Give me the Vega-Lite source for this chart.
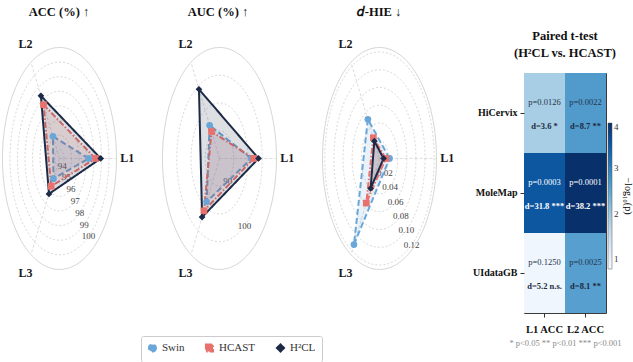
{
  "$schema": "https://vega.github.io/schema/vega-lite/v6.json",
  "background": "white",
  "padding": {"left": 0, "top": 5, "right": 0, "bottom": 0},
  "spacing": 0,
  "bounds": "flush",
  "datasets": {
    "scores": [
      {"metric": "ACC", "level": "L1", "method": "Swin", "value": 97.3},
      {"metric": "ACC", "level": "L2", "method": "Swin", "value": 95.15},
      {"metric": "ACC", "level": "L3", "method": "Swin", "value": 95.0},
      {"metric": "ACC", "level": "L1", "method": "HCAST", "value": 98.2},
      {"metric": "ACC", "level": "L2", "method": "HCAST", "value": 97.65},
      {"metric": "ACC", "level": "L3", "method": "HCAST", "value": 95.6},
      {"metric": "ACC", "level": "L1", "method": "H²CL", "value": 98.9},
      {"metric": "ACC", "level": "L2", "method": "H²CL", "value": 98.35},
      {"metric": "ACC", "level": "L3", "method": "H²CL", "value": 96.2},
      {"metric": "AUC", "level": "L1", "method": "Swin", "value": 96.2},
      {"metric": "AUC", "level": "L2", "method": "Swin", "value": 91.9},
      {"metric": "AUC", "level": "L3", "method": "Swin", "value": 94.0},
      {"metric": "AUC", "level": "L1", "method": "HCAST", "value": 97.0},
      {"metric": "AUC", "level": "L2", "method": "HCAST", "value": 90.6},
      {"metric": "AUC", "level": "L3", "method": "HCAST", "value": 95.9},
      {"metric": "AUC", "level": "L1", "method": "H²CL", "value": 98.7},
      {"metric": "AUC", "level": "L2", "method": "H²CL", "value": 99.4},
      {"metric": "AUC", "level": "L3", "method": "H²CL", "value": 97.2},
      {"metric": "dHIE", "level": "L1", "method": "Swin", "value": 0.022},
      {"metric": "dHIE", "level": "L2", "method": "Swin", "value": 0.051},
      {"metric": "dHIE", "level": "L3", "method": "Swin", "value": 0.112},
      {"metric": "dHIE", "level": "L1", "method": "HCAST", "value": 0.014},
      {"metric": "dHIE", "level": "L2", "method": "HCAST", "value": 0.027},
      {"metric": "dHIE", "level": "L3", "method": "HCAST", "value": 0.058},
      {"metric": "dHIE", "level": "L1", "method": "H²CL", "value": 0.009},
      {"metric": "dHIE", "level": "L2", "method": "H²CL", "value": 0.0225},
      {"metric": "dHIE", "level": "L3", "method": "H²CL", "value": 0.039}
    ],
    "bounds": [
      {"metric": "ACC", "lo": 93.4, "hi": 101.0},
      {"metric": "AUC", "lo": 85.0, "hi": 105.0},
      {"metric": "dHIE", "lo": 0.0, "hi": 0.125}
    ],
    "ticks": [
      {"metric": "ACC", "tick": 94, "label": "94"},
      {"metric": "ACC", "tick": 95, "label": "95"},
      {"metric": "ACC", "tick": 96, "label": "96"},
      {"metric": "ACC", "tick": 97, "label": "97"},
      {"metric": "ACC", "tick": 98, "label": "98"},
      {"metric": "ACC", "tick": 99, "label": "99"},
      {"metric": "ACC", "tick": 100, "label": "100"},
      {"metric": "AUC", "tick": 90, "label": "90"},
      {"metric": "AUC", "tick": 95, "label": ""},
      {"metric": "AUC", "tick": 100, "label": "100"},
      {"metric": "dHIE", "tick": 0.02, "label": "0.02"},
      {"metric": "dHIE", "tick": 0.04, "label": "0.04"},
      {"metric": "dHIE", "tick": 0.06, "label": "0.06"},
      {"metric": "dHIE", "tick": 0.08, "label": "0.08"},
      {"metric": "dHIE", "tick": 0.10, "label": "0.10"},
      {"metric": "dHIE", "tick": 0.12, "label": "0.12"}
    ],
    "levels": [
      {"level": "L1"},
      {"level": "L2"},
      {"level": "L3"}
    ],
    "tests": [
      {"dataset": "HiCervix", "level": "L1 ACC", "p": 0.0126, "d": 3.6, "sig": "*"},
      {"dataset": "HiCervix", "level": "L2 ACC", "p": 0.0022, "d": 8.7, "sig": "**"},
      {"dataset": "MoleMap", "level": "L1 ACC", "p": 0.0003, "d": 31.8, "sig": "***"},
      {"dataset": "MoleMap", "level": "L2 ACC", "p": 0.0001, "d": 38.2, "sig": "***"},
      {"dataset": "UIdataGB", "level": "L1 ACC", "p": 0.1250, "d": 5.2, "sig": "n.s."},
      {"dataset": "UIdataGB", "level": "L2 ACC", "p": 0.0025, "d": 8.1, "sig": "**"}
    ]
  },
  "hconcat": [
    {
      "width": 160,
      "height": 240,
      "title": {"text": "ACC (%) ↑", "frame": "group", "anchor": "middle", "dx": -22, "offset": 20},
      "layer": [
        {
          "data": {"name": "ticks"},
          "transform": [
            {"filter": "datum.metric === 'ACC'"},
            {"lookup": "metric", "from": {"data": {"name": "bounds"}, "key": "metric", "fields": ["lo", "hi"]}},
            {"calculate": "(datum.tick - datum.lo) / (datum.hi - datum.lo)", "as": "r"},
            {"calculate": "datum.r * cos(-0.9425)", "as": "tx"},
            {"calculate": "datum.r * sin(-0.9425)", "as": "ty"}
          ],
          "layer": [
            {
              "mark": {"type": "point", "shape": "M 0.5135 0 A 0.5135 1 0 1 1 -0.5135 0 A 0.5135 1 0 1 1 0.5135 0 Z", "filled": false, "opacity": 1, "stroke": "#cfcfcf", "strokeWidth": 0.8, "strokeDash": [2, 2]},
              "encoding": {
                "x": {"datum": 0, "type": "quantitative", "scale": {"domain": [-1.026, 1.781], "nice": false, "zero": false}, "axis": null},
                "y": {"datum": 0, "type": "quantitative", "scale": {"domain": [-1.392, 0.77], "nice": false, "zero": false}, "axis": null},
                "size": {"field": "r", "type": "quantitative", "scale": {"type": "pow", "exponent": 2, "domain": [0, 1], "range": [0, 49284]}, "legend": null}
              }
            },
            {
              "mark": {"type": "text", "fontSize": 9, "color": "#444444"},
              "encoding": {
                "x": {"field": "tx", "type": "quantitative"},
                "y": {"field": "ty", "type": "quantitative"},
                "text": {"field": "label", "type": "nominal"}
              }
            }
          ]
        },
        {
          "data": {"name": "bounds"},
          "transform": [{"filter": "datum.metric === 'ACC'"}],
          "mark": {"type": "point", "shape": "M 0.5135 0 A 0.5135 1 0 1 1 -0.5135 0 A 0.5135 1 0 1 1 0.5135 0 Z", "filled": false, "opacity": 1, "stroke": "#d6d6d6", "strokeWidth": 1},
          "encoding": {
            "x": {"datum": 0, "type": "quantitative"},
            "y": {"datum": 0, "type": "quantitative"},
            "size": {"datum": 1, "type": "quantitative"}
          }
        },
        {
          "data": {"name": "levels"},
          "transform": [
            {"calculate": "indexof(['L1','L2','L3'], datum.level) * 2 * PI / 3", "as": "a"},
            {"calculate": "0", "as": "ox"},
            {"calculate": "0", "as": "oy"},
            {"calculate": "cos(datum.a)", "as": "ex"},
            {"calculate": "sin(datum.a)", "as": "ey"},
            {"calculate": "1.19 * cos(datum.a)", "as": "lx"},
            {"calculate": "1.19 * sin(datum.a)", "as": "ly"}
          ],
          "layer": [
            {
              "mark": {"type": "rule", "color": "#d3d3d3", "strokeWidth": 0.8, "strokeDash": [3, 2]},
              "encoding": {
                "x": {"field": "ox", "type": "quantitative"},
                "y": {"field": "oy", "type": "quantitative"},
                "x2": {"field": "ex"},
                "y2": {"field": "ey"}
              }
            },
            {
              "mark": {"type": "text", "fontSize": 12, "fontWeight": "bold", "color": "#1a1a1a"},
              "encoding": {
                "x": {"field": "lx", "type": "quantitative"},
                "y": {"field": "ly", "type": "quantitative"},
                "text": {"field": "level", "type": "nominal"}
              }
            }
          ]
        },
        {
          "data": {"name": "scores"},
          "transform": [
            {"filter": "datum.metric === 'ACC'"},
            {"lookup": "metric", "from": {"data": {"name": "bounds"}, "key": "metric", "fields": ["lo", "hi"]}},
            {"calculate": "(datum.value - datum.lo) / (datum.hi - datum.lo)", "as": "r"},
            {"calculate": "indexof(['L1','L2','L3'], datum.level) * 2 * PI / 3", "as": "a"},
            {"calculate": "datum.r * cos(datum.a)", "as": "px"},
            {"calculate": "datum.r * sin(datum.a)", "as": "py"}
          ],
          "encoding": {
            "x": {"field": "px", "type": "quantitative"},
            "y": {"field": "py", "type": "quantitative"},
            "color": {"field": "method", "type": "nominal", "scale": {"domain": ["Swin", "HCAST", "H²CL"], "range": ["#6aa6d8", "#e8716e", "#1c2a46"]}, "legend": null}
          },
          "layer": [
            {
              "mark": {"type": "line", "interpolate": "linear-closed", "strokeWidth": 2, "fillOpacity": 0.15},
              "encoding": {
                "order": {"field": "level", "type": "ordinal"},
                "strokeDash": {"field": "method", "type": "nominal", "scale": {"domain": ["Swin", "HCAST", "H²CL"], "range": [[6, 3], [6, 2, 1.5, 2], [1, 0]]}, "legend": null},
                "fill": {"field": "method", "type": "nominal", "scale": {"domain": ["Swin", "HCAST", "H²CL"], "range": ["#6aa6d8", "#e8716e", "#1c2a46"]}, "legend": null}
              }
            },
            {
              "mark": {"type": "point", "filled": true, "opacity": 1, "size": 45},
              "encoding": {
                "shape": {"field": "method", "type": "nominal", "scale": {"domain": ["Swin", "HCAST", "H²CL"], "range": ["circle", "square", "diamond"]}, "legend": null}
              }
            }
          ]
        }
      ]
    },
    {
      "width": 160,
      "height": 240,
      "title": {"text": "AUC (%) ↑", "frame": "group", "anchor": "middle", "dx": -23, "offset": 20},
      "layer": [
        {
          "data": {"name": "ticks"},
          "transform": [
            {"filter": "datum.metric === 'AUC'"},
            {"lookup": "metric", "from": {"data": {"name": "bounds"}, "key": "metric", "fields": ["lo", "hi"]}},
            {"calculate": "(datum.tick - datum.lo) / (datum.hi - datum.lo)", "as": "r"},
            {"calculate": "datum.r * cos(-0.9425)", "as": "tx"},
            {"calculate": "datum.r * sin(-0.9425)", "as": "ty"}
          ],
          "layer": [
            {
              "mark": {"type": "point", "shape": "M 0.5135 0 A 0.5135 1 0 1 1 -0.5135 0 A 0.5135 1 0 1 1 0.5135 0 Z", "filled": false, "opacity": 1, "stroke": "#cfcfcf", "strokeWidth": 0.8, "strokeDash": [2, 2]},
              "encoding": {
                "x": {"datum": 0, "type": "quantitative", "scale": {"domain": [-1.026, 1.781], "nice": false, "zero": false}, "axis": null},
                "y": {"datum": 0, "type": "quantitative", "scale": {"domain": [-1.392, 0.77], "nice": false, "zero": false}, "axis": null},
                "size": {"field": "r", "type": "quantitative", "scale": {"type": "pow", "exponent": 2, "domain": [0, 1], "range": [0, 49284]}, "legend": null}
              }
            },
            {
              "mark": {"type": "text", "fontSize": 9, "color": "#444444"},
              "encoding": {
                "x": {"field": "tx", "type": "quantitative"},
                "y": {"field": "ty", "type": "quantitative"},
                "text": {"field": "label", "type": "nominal"}
              }
            }
          ]
        },
        {
          "data": {"name": "bounds"},
          "transform": [{"filter": "datum.metric === 'AUC'"}],
          "mark": {"type": "point", "shape": "M 0.5135 0 A 0.5135 1 0 1 1 -0.5135 0 A 0.5135 1 0 1 1 0.5135 0 Z", "filled": false, "opacity": 1, "stroke": "#d6d6d6", "strokeWidth": 1},
          "encoding": {
            "x": {"datum": 0, "type": "quantitative"},
            "y": {"datum": 0, "type": "quantitative"},
            "size": {"datum": 1, "type": "quantitative"}
          }
        },
        {
          "data": {"name": "levels"},
          "transform": [
            {"calculate": "indexof(['L1','L2','L3'], datum.level) * 2 * PI / 3", "as": "a"},
            {"calculate": "0", "as": "ox"},
            {"calculate": "0", "as": "oy"},
            {"calculate": "cos(datum.a)", "as": "ex"},
            {"calculate": "sin(datum.a)", "as": "ey"},
            {"calculate": "1.19 * cos(datum.a)", "as": "lx"},
            {"calculate": "1.19 * sin(datum.a)", "as": "ly"}
          ],
          "layer": [
            {
              "mark": {"type": "rule", "color": "#d3d3d3", "strokeWidth": 0.8, "strokeDash": [3, 2]},
              "encoding": {
                "x": {"field": "ox", "type": "quantitative"},
                "y": {"field": "oy", "type": "quantitative"},
                "x2": {"field": "ex"},
                "y2": {"field": "ey"}
              }
            },
            {
              "mark": {"type": "text", "fontSize": 12, "fontWeight": "bold", "color": "#1a1a1a"},
              "encoding": {
                "x": {"field": "lx", "type": "quantitative"},
                "y": {"field": "ly", "type": "quantitative"},
                "text": {"field": "level", "type": "nominal"}
              }
            }
          ]
        },
        {
          "data": {"name": "scores"},
          "transform": [
            {"filter": "datum.metric === 'AUC'"},
            {"lookup": "metric", "from": {"data": {"name": "bounds"}, "key": "metric", "fields": ["lo", "hi"]}},
            {"calculate": "(datum.value - datum.lo) / (datum.hi - datum.lo)", "as": "r"},
            {"calculate": "indexof(['L1','L2','L3'], datum.level) * 2 * PI / 3", "as": "a"},
            {"calculate": "datum.r * cos(datum.a)", "as": "px"},
            {"calculate": "datum.r * sin(datum.a)", "as": "py"}
          ],
          "encoding": {
            "x": {"field": "px", "type": "quantitative"},
            "y": {"field": "py", "type": "quantitative"},
            "color": {"field": "method", "type": "nominal", "scale": {"domain": ["Swin", "HCAST", "H²CL"], "range": ["#6aa6d8", "#e8716e", "#1c2a46"]},
              "legend": {"orient": "none", "legendX": -20, "legendY": 263, "direction": "horizontal", "title": null, "strokeColor": "#cccccc", "padding": 6, "cornerRadius": 2, "columnPadding": 16, "labelFontSize": 11, "labelColor": "#333333", "symbolSize": 50, "symbolStrokeWidth": 2}}
          },
          "layer": [
            {
              "mark": {"type": "line", "interpolate": "linear-closed", "strokeWidth": 2, "fillOpacity": 0.15},
              "encoding": {
                "order": {"field": "level", "type": "ordinal"},
                "strokeDash": {"field": "method", "type": "nominal", "scale": {"domain": ["Swin", "HCAST", "H²CL"], "range": [[6, 3], [6, 2, 1.5, 2], [1, 0]]},
                  "legend": {"orient": "none", "legendX": -20, "legendY": 263, "direction": "horizontal", "title": null, "strokeColor": "#cccccc", "padding": 6, "cornerRadius": 2, "columnPadding": 16, "labelFontSize": 11, "labelColor": "#333333", "symbolSize": 50, "symbolStrokeWidth": 2}},
                "fill": {"field": "method", "type": "nominal", "scale": {"domain": ["Swin", "HCAST", "H²CL"], "range": ["#6aa6d8", "#e8716e", "#1c2a46"]}, "legend": null}
              }
            },
            {
              "mark": {"type": "point", "filled": true, "opacity": 1, "size": 45},
              "encoding": {
                "shape": {"field": "method", "type": "nominal", "scale": {"domain": ["Swin", "HCAST", "H²CL"], "range": ["circle", "square", "diamond"]},
                  "legend": {"orient": "none", "legendX": -20, "legendY": 263, "direction": "horizontal", "title": null, "strokeColor": "#cccccc", "padding": 6, "cornerRadius": 2, "columnPadding": 16, "labelFontSize": 11, "labelColor": "#333333", "symbolSize": 50, "symbolStrokeWidth": 2}}
              }
            }
          ]
        }
      ]
    },
    {
      "width": 203,
      "height": 240,
      "title": {"text": "𝑑-HIE ↓", "frame": "group", "anchor": "middle", "dx": -43.5, "offset": 20},
      "layer": [
        {
          "data": {"name": "ticks"},
          "transform": [
            {"filter": "datum.metric === 'dHIE'"},
            {"lookup": "metric", "from": {"data": {"name": "bounds"}, "key": "metric", "fields": ["lo", "hi"]}},
            {"calculate": "(datum.tick - datum.lo) / (datum.hi - datum.lo)", "as": "r"},
            {"calculate": "datum.r * cos(-0.9425)", "as": "tx"},
            {"calculate": "datum.r * sin(-0.9425)", "as": "ty"}
          ],
          "layer": [
            {
              "mark": {"type": "point", "shape": "M 0.5135 0 A 0.5135 1 0 1 1 -0.5135 0 A 0.5135 1 0 1 1 0.5135 0 Z", "filled": false, "opacity": 1, "stroke": "#cfcfcf", "strokeWidth": 0.8, "strokeDash": [2, 2]},
              "encoding": {
                "x": {"datum": 0, "type": "quantitative", "scale": {"domain": [-1.026, 2.535], "nice": false, "zero": false}, "axis": null},
                "y": {"datum": 0, "type": "quantitative", "scale": {"domain": [-1.392, 0.77], "nice": false, "zero": false}, "axis": null},
                "size": {"field": "r", "type": "quantitative", "scale": {"type": "pow", "exponent": 2, "domain": [0, 1], "range": [0, 49284]}, "legend": null}
              }
            },
            {
              "mark": {"type": "text", "fontSize": 9, "color": "#444444"},
              "encoding": {
                "x": {"field": "tx", "type": "quantitative"},
                "y": {"field": "ty", "type": "quantitative"},
                "text": {"field": "label", "type": "nominal"}
              }
            }
          ]
        },
        {
          "data": {"name": "bounds"},
          "transform": [{"filter": "datum.metric === 'dHIE'"}],
          "mark": {"type": "point", "shape": "M 0.5135 0 A 0.5135 1 0 1 1 -0.5135 0 A 0.5135 1 0 1 1 0.5135 0 Z", "filled": false, "opacity": 1, "stroke": "#d6d6d6", "strokeWidth": 1},
          "encoding": {
            "x": {"datum": 0, "type": "quantitative"},
            "y": {"datum": 0, "type": "quantitative"},
            "size": {"datum": 1, "type": "quantitative"}
          }
        },
        {
          "data": {"name": "levels"},
          "transform": [
            {"calculate": "indexof(['L1','L2','L3'], datum.level) * 2 * PI / 3", "as": "a"},
            {"calculate": "0", "as": "ox"},
            {"calculate": "0", "as": "oy"},
            {"calculate": "cos(datum.a)", "as": "ex"},
            {"calculate": "sin(datum.a)", "as": "ey"},
            {"calculate": "1.19 * cos(datum.a)", "as": "lx"},
            {"calculate": "1.19 * sin(datum.a)", "as": "ly"}
          ],
          "layer": [
            {
              "mark": {"type": "rule", "color": "#d3d3d3", "strokeWidth": 0.8, "strokeDash": [3, 2]},
              "encoding": {
                "x": {"field": "ox", "type": "quantitative"},
                "y": {"field": "oy", "type": "quantitative"},
                "x2": {"field": "ex"},
                "y2": {"field": "ey"}
              }
            },
            {
              "mark": {"type": "text", "fontSize": 12, "fontWeight": "bold", "color": "#1a1a1a"},
              "encoding": {
                "x": {"field": "lx", "type": "quantitative"},
                "y": {"field": "ly", "type": "quantitative"},
                "text": {"field": "level", "type": "nominal"}
              }
            }
          ]
        },
        {
          "data": {"name": "scores"},
          "transform": [
            {"filter": "datum.metric === 'dHIE'"},
            {"lookup": "metric", "from": {"data": {"name": "bounds"}, "key": "metric", "fields": ["lo", "hi"]}},
            {"calculate": "(datum.value - datum.lo) / (datum.hi - datum.lo)", "as": "r"},
            {"calculate": "indexof(['L1','L2','L3'], datum.level) * 2 * PI / 3", "as": "a"},
            {"calculate": "datum.r * cos(datum.a)", "as": "px"},
            {"calculate": "datum.r * sin(datum.a)", "as": "py"}
          ],
          "encoding": {
            "x": {"field": "px", "type": "quantitative"},
            "y": {"field": "py", "type": "quantitative"},
            "color": {"field": "method", "type": "nominal", "scale": {"domain": ["Swin", "HCAST", "H²CL"], "range": ["#6aa6d8", "#e8716e", "#1c2a46"]}, "legend": null}
          },
          "layer": [
            {
              "mark": {"type": "line", "interpolate": "linear-closed", "strokeWidth": 2, "fillOpacity": 0.15},
              "encoding": {
                "order": {"field": "level", "type": "ordinal"},
                "strokeDash": {"field": "method", "type": "nominal", "scale": {"domain": ["Swin", "HCAST", "H²CL"], "range": [[6, 3], [6, 2, 1.5, 2], [1, 0]]}, "legend": null},
                "fill": {"field": "method", "type": "nominal", "scale": {"domain": ["Swin", "HCAST", "H²CL"], "range": ["#6aa6d8", "#e8716e", "#1c2a46"]}, "legend": null}
              }
            },
            {
              "mark": {"type": "point", "filled": true, "opacity": 1, "size": 45},
              "encoding": {
                "shape": {"field": "method", "type": "nominal", "scale": {"domain": ["Swin", "HCAST", "H²CL"], "range": ["circle", "square", "diamond"]}, "legend": null}
              }
            }
          ]
        }
      ]
    },
    {
      "width": 82,
      "height": 240,
      "data": {"name": "tests"},
      "view": {"stroke": "#3a3a3a", "strokeWidth": 1},
      "title": {"text": ["Paired t-test", "(H²CL vs. HCAST)"], "frame": "group", "anchor": "middle", "offset": 14, "lineHeight": 17},
      "transform": [
        {"calculate": "-log(datum.p) / LN10", "as": "nlp"},
        {"calculate": "'p=' + format(datum.p, '.4f')", "as": "ptxt"},
        {"calculate": "'d=' + format(datum.d, '.1f') + ' ' + datum.sig", "as": "dtxt"}
      ],
      "encoding": {
        "x": {"field": "level", "type": "nominal", "scale": {"paddingInner": 0, "paddingOuter": 0},
          "axis": {"labelAngle": 0, "labelFontWeight": "bold", "labelFontSize": 10.5, "labelColor": "#111111", "labelPadding": 7, "tickSize": 4, "tickColor": "#333333", "domain": false,
            "title": "* p<0.05   ** p<0.01   *** p<0.001", "titleFontWeight": "normal", "titleFontSize": 8.5, "titleColor": "#8a8a8a", "titlePadding": 4}},
        "y": {"field": "dataset", "type": "nominal", "sort": ["HiCervix", "MoleMap", "UIdataGB"], "scale": {"paddingInner": 0, "paddingOuter": 0},
          "axis": {"title": null, "labelFontWeight": "bold", "labelFontSize": 10, "labelColor": "#111111", "labelPadding": 3, "tickSize": 4, "tickColor": "#333333", "domain": false}}
      },
      "layer": [
        {
          "mark": {"type": "rect"},
          "encoding": {
            "color": {"field": "nlp", "type": "quantitative",
              "scale": {"domain": [0.78, 1.1825, 1.585, 1.9875, 2.39, 2.7925, 3.195, 3.5975, 4.0], "range": ["#f7fbff", "#deebf7", "#c6dbef", "#9ecae1", "#6baed6", "#4292c6", "#2171b5", "#08519c", "#08306b"]},
              "legend": {"orient": "none", "legendX": 84, "legendY": 50, "direction": "vertical", "gradientLength": 146, "gradientThickness": 4, "values": [1, 2, 3, 4], "labelFontSize": 9, "labelColor": "#333333", "labelOverlap": false, "gradientStrokeColor": "#555555", "gradientStrokeWidth": 0.5, "title": "−log₁₀(p)", "titleOrient": "right", "titleFontSize": 10, "titleFontWeight": "normal", "titlePadding": 4}}
          }
        },
        {
          "mark": {"type": "text", "dy": -11, "fontSize": 8.5},
          "encoding": {
            "text": {"field": "ptxt", "type": "nominal"},
            "color": {"condition": {"test": "datum.nlp > 3", "value": "#ffffff"}, "value": "#26344d"}
          }
        },
        {
          "mark": {"type": "text", "dy": 13, "fontSize": 8.5, "fontWeight": "bold"},
          "encoding": {
            "text": {"field": "dtxt", "type": "nominal"},
            "color": {"condition": {"test": "datum.nlp > 3", "value": "#ffffff"}, "value": "#1f2a3d"}
          }
        }
      ]
    }
  ],
  "resolve": {
    "scale": {"x": "independent", "y": "independent", "color": "independent", "fill": "independent", "shape": "independent", "strokeDash": "independent", "size": "independent"},
    "legend": {"color": "independent", "fill": "independent", "shape": "independent", "strokeDash": "independent", "size": "independent"}
  },
  "config": {
    "font": "Liberation Serif",
    "view": {"stroke": null},
    "title": {"font": "Liberation Serif", "fontSize": 12.5, "fontWeight": "bold", "color": "#111111"},
    "axis": {"labelFont": "Liberation Serif", "titleFont": "Liberation Serif"},
    "legend": {"labelFont": "Liberation Serif", "titleFont": "Liberation Serif"},
    "text": {"font": "Liberation Serif"}
  }
}
